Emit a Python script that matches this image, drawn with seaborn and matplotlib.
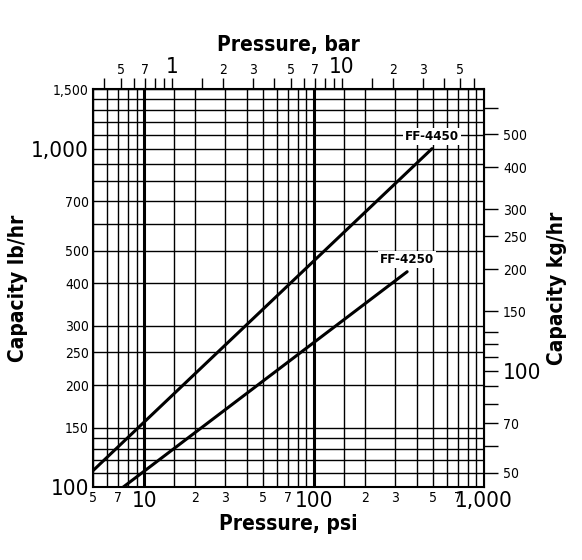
import matplotlib
matplotlib.use('Agg')
import matplotlib.pyplot as plt
import matplotlib.ticker as mticker
import pandas as pd
import seaborn as sns

# line endpoints (psi, lb/hr)
model = ['FF-4450', 'FF-4450', 'FF-4250', 'FF-4250']
psi = [5, 493, 7.5, 352]
capacity = [112, 1000, 100, 433]
label_pos = {'FF-4450': (493, 1000), 'FF-4250': (352, 433)}

x_grid = [5, 6, 7, 8, 9, 10, 15, 20, 30, 40, 50, 60, 70, 80, 90, 100, 150, 200, 300, 400, 500, 600, 700, 800, 900, 1000]
y_grid = [100, 110, 120, 130, 140, 150, 200, 250, 300, 400, 500, 600, 700, 800, 900, 1000, 1100, 1200, 1300, 1400, 1500]
y_labels = [100, 150, 200, 250, 300, 400, 500, 700, 1000, 1500]
kg_major = [50, 70, 100, 150, 200, 250, 300, 400, 500]
kg_minor = [60, 80, 90, 110, 120, 130, 600]
bar_major = [0.5, 0.7, 1, 2, 3, 5, 7, 10, 20, 30, 50, 70]
bar_minor = [0.4, 0.6, 0.8, 0.9, 1.5, 4, 6, 8, 9, 15, 40, 60]

df = pd.DataFrame({'model': model, 'psi': psi, 'capacity': capacity})

sns.set_style('white')
plt.rcParams['font.family'] = ['DejaVu Sans']
plt.rcParams['font.stretch'] = 'condensed'
plt.rcParams['text.color'] = 'black'
plt.rcParams['xtick.color'] = 'black'
plt.rcParams['ytick.color'] = 'black'
plt.rcParams['axes.labelcolor'] = 'black'

fig = plt.figure(figsize=(5.82, 5.6), dpi=100)
ax = fig.add_axes([0.16, 0.13, 0.672, 0.711])
ax.set_xscale('log')
ax.set_yscale('log')
ax.set_xlim(5, 1000)
ax.set_ylim(100, 1500)

for xv in x_grid:
    ax.axvline(xv, color='black', lw=2.2 if xv in (10, 100) else 1.0, zorder=1)
for yv in y_grid:
    ax.axhline(yv, color='black', lw=1.0, zorder=1)

sns.lineplot(data=df, x='psi', y='capacity', units='model', estimator=None,
             color='black', lw=2.2, ax=ax, zorder=3)
for name, (px, py) in label_pos.items():
    ax.text(px, py * 1.04, name, ha='center', va='bottom', fontsize=9.5, fontweight='bold',
            bbox=dict(facecolor='white', edgecolor='none', pad=1.5), zorder=4)

ax.xaxis.set_major_locator(mticker.FixedLocator([5, 7, 10, 20, 30, 50, 70, 100, 200, 300, 500, 700, 1000]))
ax.xaxis.set_minor_locator(mticker.NullLocator())
ax.set_xticklabels(['5', '7', '10', '2', '3', '5', '7', '100', '2', '3', '5', '7', '1,000'])
for t in ax.get_xticklabels():
    t.set_fontsize(16 if t.get_text() in ('10', '100', '1,000') else 10)
ax.yaxis.set_major_locator(mticker.FixedLocator(y_labels))
ax.yaxis.set_minor_locator(mticker.NullLocator())
ax.set_yticklabels([f'{v:,}' for v in y_labels])
for t in ax.get_yticklabels():
    t.set_fontsize(16 if t.get_text() in ('100', '1,000') else 10)
ax.tick_params(length=0, pad=3)
ax.set_xlabel('Pressure, psi', fontsize=15, fontweight='bold', labelpad=2)
ax.set_ylabel('Capacity lb/hr', fontsize=15, fontweight='bold', labelpad=2)
for s in ax.spines.values():
    s.set_linewidth(1.5)
    s.set_color('black')

def bar_fmt(v, pos=None):
    if v < 1:
        return f'{v:g}'[-1]
    if v >= 20:
        return f'{v:g}'[0]
    return f'{v:g}'

top = ax.secondary_xaxis('top', functions=(lambda p: p / 14.5, lambda b: b * 14.5))
top.xaxis.set_major_locator(mticker.FixedLocator(bar_major))
top.xaxis.set_minor_locator(mticker.FixedLocator(bar_minor))
top.xaxis.set_major_formatter(mticker.FuncFormatter(bar_fmt))
top.xaxis.set_minor_formatter(mticker.NullFormatter())
top.tick_params(which='major', length=8, width=1, labelsize=10, direction='out', pad=1)
top.tick_params(which='minor', length=8, width=1, direction='out')
for t in top.get_xticklabels():
    if t.get_text() in ('1', '10'):
        t.set_fontsize(16)
top.set_xlabel('Pressure, bar', fontsize=15, fontweight='bold', labelpad=4)

right = ax.secondary_yaxis('right', functions=(lambda l: l / 2.2046, lambda k: k * 2.2046))
right.yaxis.set_major_locator(mticker.FixedLocator(kg_major))
right.yaxis.set_minor_locator(mticker.FixedLocator(kg_minor))
right.yaxis.set_major_formatter(mticker.FuncFormatter(lambda v, p: f'{v:g}'))
right.yaxis.set_minor_formatter(mticker.NullFormatter())
right.tick_params(which='both', length=10, width=1, labelsize=10)
for t in right.get_yticklabels():
    if t.get_text() == '100':
        t.set_fontsize(16)
right.set_ylabel('Capacity kg/hr', fontsize=15, fontweight='bold', labelpad=4)

fig.savefig('out.png', dpi=100)
